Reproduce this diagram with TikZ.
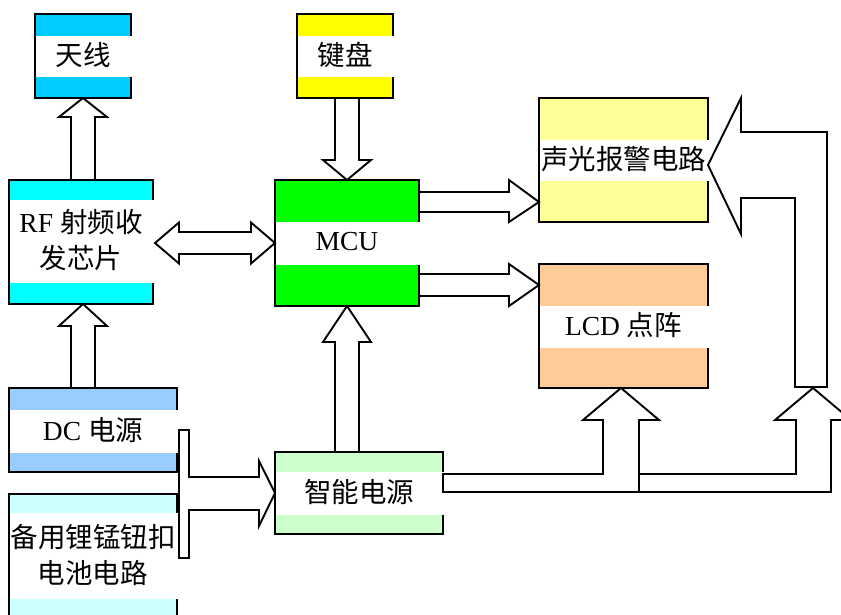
\documentclass[tikz,border=0pt]{standalone}
\usepackage{fontspec}
\setmainfont{Liberation Serif}
\newfontfamily\cjk{Noto Sans CJK SC}
\usetikzlibrary{calc}
\tikzset{
  box/.style={draw, line width=1.9pt, inner sep=0pt, outer sep=0pt},
  lbl/.style={font=\fontsize{27.5}{36}\selectfont, align=center, inner sep=0pt},
  barrow/.style={draw, fill=white, line width=1.9pt, line join=miter},
}
\definecolor{cAnt}{RGB}{0,204,255}
\definecolor{cRF}{RGB}{0,255,255}
\definecolor{cKbd}{RGB}{255,255,0}
\definecolor{cMCU}{RGB}{0,255,0}
\definecolor{cAlarm}{RGB}{255,255,153}
\definecolor{cLCD}{RGB}{255,204,153}
\definecolor{cDC}{RGB}{153,204,255}
\definecolor{cBak}{RGB}{204,255,255}
\definecolor{cSmart}{RGB}{204,255,204}
% #1 name, #2 x1, #3 y1, #4 x2, #5 y2, #6 colour, #7 band top, #8 band bottom, #9 text
\newcommand\blk[9]{%
  \node[box, fill=#6, minimum width={#4pt-#2pt}, minimum height={#5pt-#3pt}] (#1) at ({(#2+#4)/2},{(#3+#5)/2}) {};
  \fill[white] (#2+0.95,#7) rectangle (#4+1.4,#8);
  \node[lbl] (#1-t) at ({(#2+#4)/2},{(#7+#8)/2-1.5}) {#9};
}
\begin{document}
\begin{tikzpicture}[x=1pt,y=-1pt]
\clip (0,0) rectangle (841,615);
\useasboundingbox (0,0) rectangle (841,615);

\blk{ant}{35}{14}{131}{98}{cAnt}{36}{77}{\cjk 天线}
\blk{kbd}{297}{14}{393}{98}{cKbd}{36}{77}{\cjk 键盘}
\blk{rf}{9}{180}{153}{304}{cRF}{200}{283}{RF {\cjk 射频收}\\{\cjk 发芯片}}
\blk{mcu}{275}{180}{419}{306}{cMCU}{222}{265}{MCU}
\blk{alarm}{539}{98}{708}{222}{cAlarm}{140}{181}{\cjk 声光报警电路}
\blk{lcd}{539}{264}{708}{388}{cLCD}{306}{348}{LCD {\cjk 点阵}}
\blk{dc}{9}{388}{177}{472}{cDC}{410}{453}{DC {\cjk 电源}}
\blk{bak}{9}{494}{177}{620}{cBak}{513}{599}{{\cjk 备用锂锰钮扣}\\{\cjk 电池电路}}
\blk{smart}{275}{452}{443}{534}{cSmart}{472}{515}{\cjk 智能电源}

% RF -> antenna
\draw[barrow] (ant.south) -- ++(24,19) -- ++(-12,0) -- ++(0,63) -- ++(-24,0) -- ++(0,-63) -- ++(-12,0) -- cycle;
% DC -> RF
\draw[barrow] (ant.south |- rf.south) -- ++(24,22) -- ++(-12,0) -- ++(0,62) -- ++(-24,0) -- ++(0,-62) -- ++(-12,0) -- cycle;
% keyboard -> MCU
\draw[barrow] (mcu.north) -- ++(24,-20) -- ++(-12,0) -- ++(0,-62) -- ++(-24,0) -- ++(0,62) -- ++(-12,0) -- cycle;
% smart power -> MCU
\draw[barrow] (mcu.south) -- ++(24,36) -- ++(-12,0) -- ++(0,110) -- ++(-24,0) -- ++(0,-110) -- ++(-12,0) -- cycle;
% RF <-> MCU
\draw[barrow] (mcu.west) -- ++(-24,-20.5) -- ++(0,9.5) -- ++(-72,0) -- ++(0,-9.5) -- ++(-24,20.5)
  -- ++(24,20.5) -- ++(0,-9.5) -- ++(72,0) -- ++(0,9.5) -- cycle;
% MCU -> alarm
\draw[barrow] ($(alarm.south west)+(0,-20)$) -- ++(-30,-22) -- ++(0,12) -- ++(-90,0) -- ++(0,20) -- ++(90,0) -- ++(0,10) -- cycle;
% MCU -> LCD
\draw[barrow] ($(lcd.north west)+(0,21)$) -- ++(-30,-21) -- ++(0,10) -- ++(-90,0) -- ++(0,22) -- ++(90,0) -- ++(0,10) -- cycle;
% DC / backup -> smart power
\draw[barrow] (smart.west) -- ++(-16,-32) -- ++(0,16) -- ++(-70,0) -- ++(0,-47) -- ++(-10,0) -- ++(0,128)
  -- ++(10,0) -- ++(0,-48) -- ++(70,0) -- ++(0,16) -- cycle;
% smart power -> LCD and alarm
\draw[barrow] ($(smart.north east)+(0,22)$) -- (603,474) -- (603,420) -- (583,420) -- ($(lcd.south)+(-2.5,0)$)
  -- (659,420) -- (639,420) -- (639,474) -- (796,474) -- (796,420) -- (775,420) -- (813,388)
  -- (851,420) -- (831,420) -- (831,492) -- ($(smart.north east)+(0,40)$) -- cycle;
\draw[line width=1.9pt] (639,474) -- (639,492);
% bent arrow -> alarm
\draw[barrow] ($(alarm.east)+(0,5)$) -- (741,98) -- (741,132) -- (827,132) -- (827,387) -- (795,387)
  -- (795,198) -- (741,198) -- (741,234) -- cycle;
\end{tikzpicture}
\end{document}
